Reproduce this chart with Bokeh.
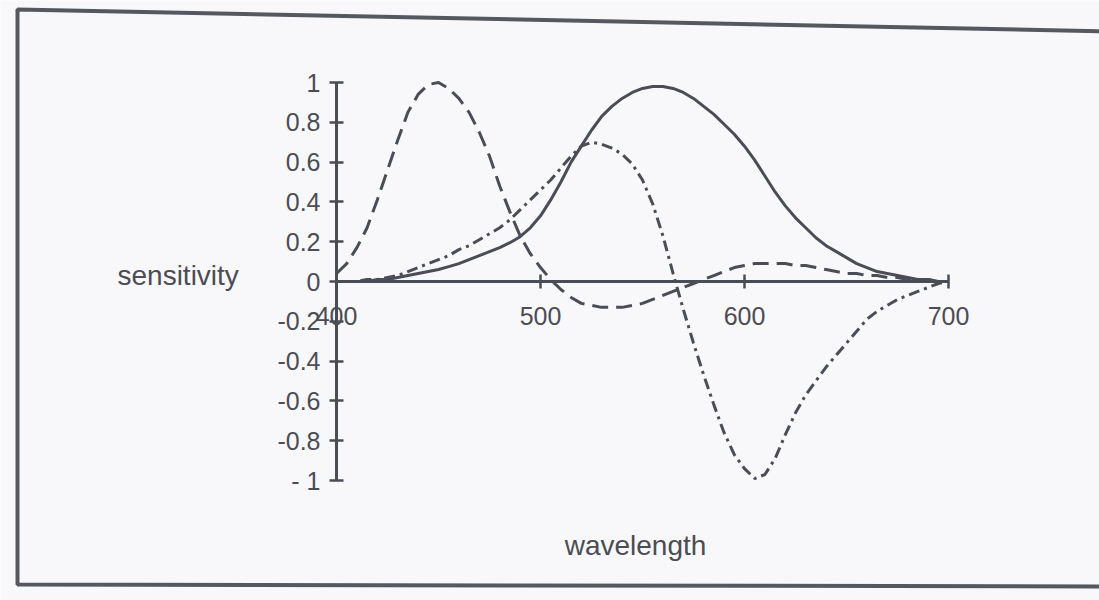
from bokeh.plotting import figure
from bokeh.models import LinearAxis, FixedTicker, CustomJSTickFormatter, Label, PolyAnnotation, Range1d
from bokeh.embed import file_html
from bokeh.resources import INLINE

# ---------------- data ----------------
wavelength = list(range(400, 705, 5))

curve_long = [0.04, 0.09, 0.17, 0.27, 0.41, 0.56, 0.71, 0.85, 0.94, 0.99,
              1.00, 0.97, 0.92, 0.85, 0.75, 0.63, 0.48, 0.35, 0.23, 0.14,
              0.07, 0.01, -0.04, -0.08, -0.11, -0.12, -0.13, -0.13, -0.13, -0.12,
              -0.11, -0.09, -0.07, -0.05, -0.03, -0.01, 0.01, 0.03, 0.05, 0.07,
              0.08, 0.09, 0.09, 0.09, 0.09, 0.08, 0.08, 0.07, 0.06, 0.05,
              0.04, 0.04, 0.03, 0.03, 0.02, 0.02, 0.01, 0.01, 0.01, 0.00,
              0.00]

curve_solid = [0.00, 0.00, 0.00, 0.00, 0.01, 0.01, 0.02, 0.03, 0.04, 0.05,
               0.06, 0.075, 0.09, 0.11, 0.13, 0.15, 0.17, 0.195, 0.225, 0.27,
               0.33, 0.41, 0.50, 0.60, 0.68, 0.76, 0.83, 0.88, 0.92, 0.95,
               0.97, 0.98, 0.98, 0.97, 0.95, 0.92, 0.88, 0.84, 0.79, 0.74,
               0.68, 0.61, 0.53, 0.45, 0.38, 0.32, 0.27, 0.22, 0.18, 0.15,
               0.12, 0.09, 0.07, 0.05, 0.04, 0.03, 0.02, 0.01, 0.01, 0.00,
               0.00]

curve_dashdot = [0.00, 0.00, 0.00, 0.01, 0.01, 0.02, 0.03, 0.05, 0.07, 0.09,
                 0.11, 0.13, 0.16, 0.18, 0.21, 0.24, 0.27, 0.31, 0.36, 0.41,
                 0.46, 0.51, 0.57, 0.63, 0.68, 0.70, 0.69, 0.67, 0.64, 0.59,
                 0.51, 0.39, 0.23, 0.04, -0.14, -0.31, -0.47, -0.62, -0.76, -0.87,
                 -0.94, -0.99, -0.97, -0.89, -0.77, -0.66, -0.57, -0.50, -0.43, -0.37,
                 -0.31, -0.25, -0.19, -0.15, -0.12, -0.09, -0.07, -0.05, -0.03, -0.01,
                 0.00]

x_ticks = [400, 500, 600, 700]
x_tick_labels = ["400", "500", "600", "700"]
y_ticks = [-1.0, -0.8, -0.6, -0.4, -0.2, 0.0, 0.2, 0.4, 0.6, 0.8, 1.0]
y_tick_labels = ["- 1", "-0.8", "-0.6", "-0.4", "-0.2", "0", "0.2", "0.4", "0.6", "0.8", "1"]
x_title = "wavelength"
y_title = "sensitivity"

# ---------------- styling / layout ----------------
W, H = 1099, 600
X0_PX, X_SCALE = 336.0, 2.04      # px of 400 nm, px per nm
Y0_PX, Y_SCALE = 281.0, 199.0     # px of y=0, px per unit


def dx(px):
    return 400 + (px - X0_PX) / X_SCALE


def dy(py):
    return (Y0_PX - py) / Y_SCALE


INK = "#4a4d55"
TEXT = "#4c4c54"
BG = "#f8f8fa"
FONT = "Liberation Sans"

p = figure(width=W, height=H,
           x_range=Range1d(dx(0), dx(W)), y_range=Range1d(dy(H), dy(0)),
           x_axis_type=None, y_axis_type=None,
           output_backend="svg", toolbar_location=None,
           min_border=0, min_border_left=0, min_border_right=0,
           min_border_top=0, min_border_bottom=0)
p.outline_line_color = None
p.background_fill_color = BG
p.border_fill_color = BG

FMT_CODE = """
let best = 0, bd = 1e9;
for (let i = 0; i < vals.length; i++) {
  const d = Math.abs(vals[i] - tick);
  if (d < bd) { bd = d; best = i; }
}
return labels[best];
"""

yaxis = LinearAxis(fixed_location=400, bounds=(-1, 1),
                   ticker=FixedTicker(ticks=y_ticks, minor_ticks=[]),
                   formatter=CustomJSTickFormatter(args=dict(vals=y_ticks, labels=y_tick_labels), code=FMT_CODE))
xaxis = LinearAxis(fixed_location=0, bounds=(400, 700),
                   ticker=FixedTicker(ticks=x_ticks, minor_ticks=[]),
                   formatter=CustomJSTickFormatter(args=dict(vals=x_ticks, labels=x_tick_labels), code=FMT_CODE))
for ax in (yaxis, xaxis):
    ax.axis_line_color = INK
    ax.axis_line_width = 3
    ax.major_tick_line_color = INK
    ax.major_tick_line_width = 2.5
    ax.major_tick_in = 7
    ax.major_tick_out = 7
    ax.minor_tick_line_color = None
    ax.major_label_text_font = FONT
    ax.major_label_text_font_size = "25px"
    ax.major_label_text_color = TEXT
yaxis.major_label_standoff = 9
xaxis.major_label_standoff = 18
p.add_layout(yaxis, "left")
p.add_layout(xaxis, "below")

p.line(wavelength, curve_solid, line_color=INK, line_width=3)
p.line(wavelength, curve_long, line_color=INK, line_width=3, line_dash="16 8")
p.line(wavelength, curve_dashdot, line_color=INK, line_width=3, line_dash="11 5 3 5")

p.add_layout(Label(x=dx(117), y=dy(275), text=y_title, text_font=FONT,
                   text_font_size="28px", text_color=TEXT,
                   text_align="left", text_baseline="alphabetic"))
p.add_layout(Label(x=dx(635), y=dy(545), text=x_title, text_font=FONT,
                   text_font_size="28px", text_color=TEXT,
                   text_align="center", text_baseline="alphabetic"))

# scanned page frame
p.add_layout(PolyAnnotation(xs=[dx(17), dx(1115), dx(1115), dx(17)],
                            ys=[dy(9), dy(31), dy(586), dy(584)],
                            fill_color=None, fill_alpha=0,
                            line_color="#55585f", line_alpha=1.0, line_width=4))

open("out.html", "w").write(file_html(p, INLINE))
